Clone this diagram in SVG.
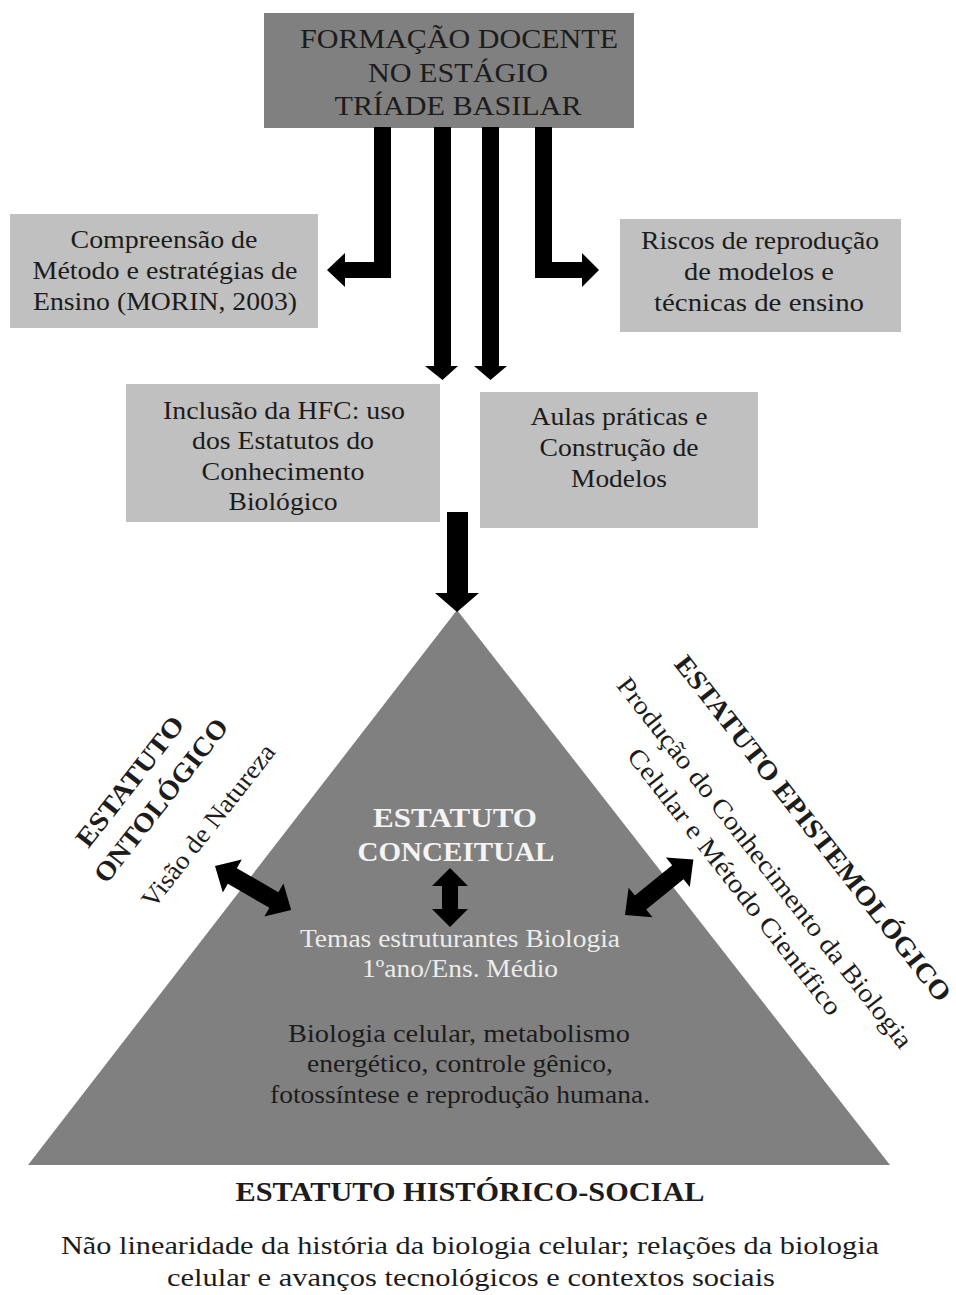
<svg xmlns="http://www.w3.org/2000/svg" width="956" height="1295" viewBox="0 0 956 1295">
<style>
text{font-family:"Liberation Serif","Times New Roman",serif;fill:#1c1c1c;}
.c{text-anchor:middle;}
.b{font-weight:bold;}
.t28{font-size:28px;}
.t25{font-size:25px;}
.t26{font-size:26px;}
.t27{font-size:27px;}
.w{fill:#f4f4f4;}
.w2{fill:#ececec;}
.dark{fill:#808080;}
.light{fill:#c0c0c0;}
.arr{fill:#000;}
</style>
<rect width="956" height="1295" fill="#fff"/>

<g id="top">
<rect class="dark" x="264" y="13" width="370" height="115"/>
<text class="c t28" x="459" y="48" textLength="318" lengthAdjust="spacingAndGlyphs">FORMAÇÃO DOCENTE</text>
<text class="c t28" x="458" y="82" textLength="180" lengthAdjust="spacingAndGlyphs">NO ESTÁGIO</text>
<text class="c t28" x="458" y="115" textLength="247" lengthAdjust="spacingAndGlyphs">TRÍADE BASILAR</text>
</g>

<g id="compreensao">
<rect class="light" x="10" y="214" width="308" height="114"/>
<text class="c t25" x="164" y="248" textLength="187" lengthAdjust="spacingAndGlyphs">Compreensão de</text>
<text class="c t25" x="165" y="279" textLength="265" lengthAdjust="spacingAndGlyphs">Método e estratégias de</text>
<text class="c t25" x="165" y="310" textLength="264" lengthAdjust="spacingAndGlyphs">Ensino (MORIN, 2003)</text>
</g>

<g id="riscos">
<rect class="light" x="620" y="219" width="281" height="113"/>
<text class="c t25" x="760" y="249" textLength="238" lengthAdjust="spacingAndGlyphs">Riscos de reprodução</text>
<text class="c t25" x="759" y="280" textLength="150" lengthAdjust="spacingAndGlyphs">de modelos e</text>
<text class="c t25" x="759" y="311" textLength="210" lengthAdjust="spacingAndGlyphs">técnicas de ensino</text>
</g>

<g id="inclusao">
<rect class="light" x="126" y="384" width="314" height="138"/>
<text class="c t25" x="284" y="419" textLength="242" lengthAdjust="spacingAndGlyphs">Inclusão da HFC: uso</text>
<text class="c t25" x="283" y="449" textLength="182" lengthAdjust="spacingAndGlyphs">dos Estatutos do</text>
<text class="c t25" x="283" y="480" textLength="163" lengthAdjust="spacingAndGlyphs">Conhecimento</text>
<text class="c t25" x="283" y="510" textLength="109" lengthAdjust="spacingAndGlyphs">Biológico</text>
</g>

<g id="aulas">
<rect class="light" x="480" y="392" width="278" height="136"/>
<text class="c t25" x="619" y="425" textLength="177" lengthAdjust="spacingAndGlyphs">Aulas práticas e</text>
<text class="c t25" x="619" y="456" textLength="159" lengthAdjust="spacingAndGlyphs">Construção de</text>
<text class="c t25" x="619" y="487" textLength="96" lengthAdjust="spacingAndGlyphs">Modelos</text>
</g>

<g id="triangulo">
<polygon class="dark" points="457,610 890,1165 28,1165"/>
<text class="c t27 b w" x="455" y="827" textLength="164" lengthAdjust="spacingAndGlyphs">ESTATUTO</text>
<text class="c t27 b w" x="456" y="861" textLength="197" lengthAdjust="spacingAndGlyphs">CONCEITUAL</text>
<text class="c t25 w2" x="460" y="947" textLength="320" lengthAdjust="spacingAndGlyphs">Temas estruturantes Biologia</text>
<text class="c t25 w2" x="460" y="977" textLength="196" lengthAdjust="spacingAndGlyphs">1ºano/Ens. Médio</text>
<text class="c t25" x="459" y="1042" textLength="342" lengthAdjust="spacingAndGlyphs">Biologia  celular, metabolismo</text>
<text class="c t25" x="460" y="1072" textLength="306" lengthAdjust="spacingAndGlyphs">energético, controle gênico,</text>
<text class="c t25" x="460" y="1103" textLength="380" lengthAdjust="spacingAndGlyphs">fotossíntese e reprodução humana.</text>
</g>

<g id="ontologico">
<text class="c t27 b" transform="translate(137,787) rotate(-52)" textLength="158" lengthAdjust="spacingAndGlyphs">ESTATUTO</text>
<text class="c t27 b" transform="translate(168,806) rotate(-52)" textLength="200" lengthAdjust="spacingAndGlyphs">ONTOLÓGICO</text>
<text class="c t26" transform="translate(215,831) rotate(-52)" textLength="200" lengthAdjust="spacingAndGlyphs">Visão de Natureza</text>
</g>

<g id="epistemologico">
<text class="c t27 b" transform="translate(806,834) rotate(52)" textLength="431" lengthAdjust="spacingAndGlyphs">ESTATUTO EPISTEMOLÓGICO</text>
<text class="c t26" transform="translate(758,868) rotate(52)" textLength="463" lengthAdjust="spacingAndGlyphs">Produção do Conhecimento da Biologia</text>
<text class="c t26" transform="translate(728,887) rotate(52)" textLength="331" lengthAdjust="spacingAndGlyphs">Celular e Método Científico</text>
</g>

<g id="historico">
<text class="c t28 b" x="470" y="1201" textLength="469" lengthAdjust="spacingAndGlyphs">ESTATUTO HISTÓRICO-SOCIAL</text>
<text class="c t25" x="470" y="1254" textLength="818" lengthAdjust="spacingAndGlyphs">Não linearidade da história da biologia celular; relações da biologia</text>
<text class="c t25" x="471" y="1286" textLength="608" lengthAdjust="spacingAndGlyphs">celular e avanços tecnológicos e contextos sociais</text>
</g>

<g id="connectors">
<polygon class="arr" points="374,127 391,127 391,278 345,278 345,287 327,270 345,253 345,262 374,262"/>
<polygon class="arr" points="535,127 552,127 552,262 582,262 582,253 599,270 582,287 582,278 535,278"/>
<polygon class="arr" points="434,127 451,127 451,366 458,366 442.5,380 425,366 434,366"/>
<polygon class="arr" points="482,127 499,127 499,366 507,366 490.5,380 474,366 482,366"/>
<polygon class="arr" points="447,512 468,512 468,593 479,593 457,612 435,593 447,593"/>
<polygon class="arr" transform="translate(215,866) rotate(30)" points="0,0 20,-19 20,-9 68,-9 68,-19 88,0 68,19 68,9 20,9 20,19"/>
<polygon class="arr" transform="translate(625,915) rotate(-39)" points="0,0 20,-19 20,-9 68,-9 68,-19 88,0 68,19 68,9 20,9 20,19"/>
<polygon class="arr" transform="translate(450,868) rotate(90)" points="0,0 18,-18 18,-8 41,-8 41,-18 59,0 41,18 41,8 18,8 18,18"/>
</g>
</svg>
